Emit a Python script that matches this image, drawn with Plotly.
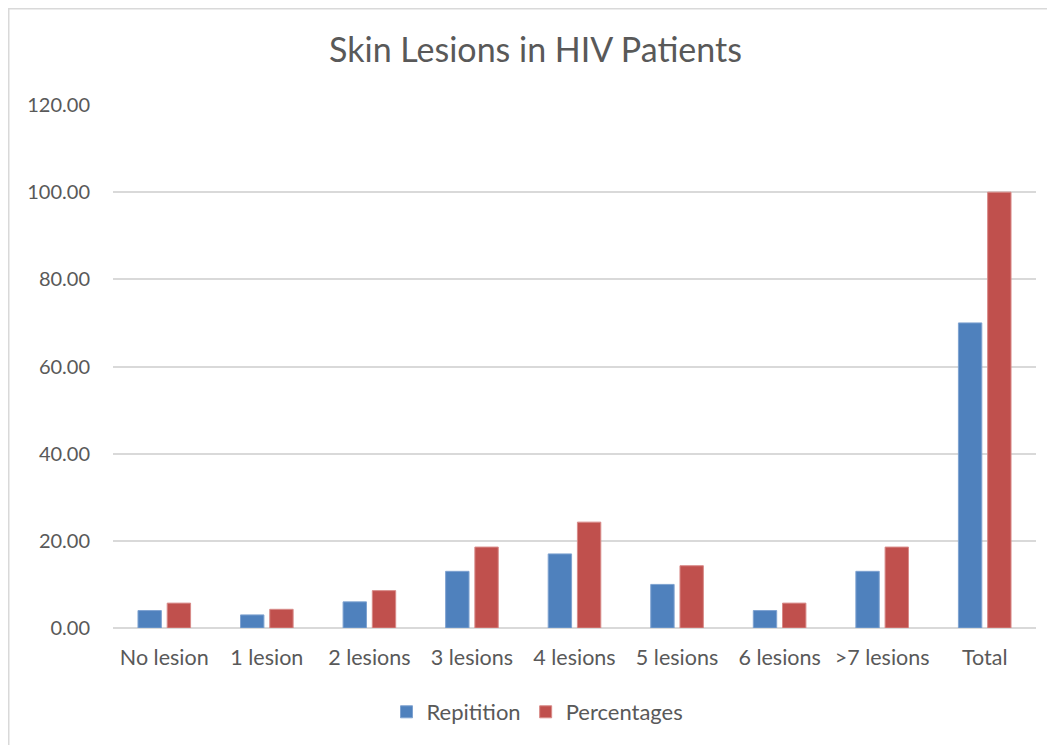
import plotly.graph_objects as go

categories = ["No lesion", "1 lesion", "2 lesions", "3 lesions", "4 lesions",
              "5 lesions", "6 lesions", ">7 lesions", "Total"]
repitition = [4, 3, 6, 13, 17, 10, 4, 13, 70]
percentages = [5.71, 4.29, 8.57, 18.57, 24.29, 14.29, 5.71, 18.57, 100.0]
tick_vals = [0, 20, 40, 60, 80, 100, 120]
tick_text = ["0.00", "20.00", "40.00", "60.00", "80.00", "100.00", "120.00"]

FONT = "Lato, Carlito, Calibri, sans-serif"
GREY = "#595959"

fig = go.Figure()
fig.add_trace(go.Bar(name="Repitition", x=categories, y=repitition,
                     marker=dict(color="#4f81bd", line=dict(color="#7ea2d0", width=1))))
fig.add_trace(go.Bar(name="Percentages", x=categories, y=percentages,
                     marker=dict(color="#c0504d", line=dict(color="#d88a88", width=1))))

OFF = 8  # page body margin offset
W, H = 1055, 745
L, R, T, B = 113 - OFF, 1036 - OFF, 105 - OFF, 628 - OFF
fig.update_layout(
    width=W, height=H,
    margin=dict(l=L, r=W - R, t=T, b=H - B, autoexpand=False),
    paper_bgcolor="white", plot_bgcolor="white",
    barmode="group", bargap=0.43, bargroupgap=0.2,
    font=dict(family=FONT, color=GREY, size=20),
    title=dict(text="Skin Lesions in HIV Patients", x=0.5, xanchor="center",
               y=1 - (50 - OFF) / H, yanchor="middle",
               font=dict(family=FONT, size=34, color=GREY)),
    xaxis=dict(showgrid=False, showline=False, ticks="", tickfont=dict(size=21.5, color=GREY),
               ticklabelstandoff=14),
    yaxis=dict(range=[0, 120], tickvals=tick_vals, ticktext=tick_text,
               showgrid=True, gridcolor="#d9d9d9", gridwidth=1.5,
               zeroline=True, zerolinecolor="#d9d9d9", zerolinewidth=1.5,
               showline=False, ticks="", tickfont=dict(size=20, color=GREY),
               ticklabelstandoff=22),
    legend=dict(orientation="h", x=0.5 - 37 / (R - L), xanchor="center",
                y=(B - (712 - OFF)) / (B - T),
                yanchor="middle", font=dict(size=22, color=GREY),
                itemwidth=30, traceorder="normal", itemclick=False),
    showlegend=True,
)

# outer chart border (top and left visible in reference)
w = R - L
h = B - T
fig.add_shape(type="rect", xref="paper", yref="paper",
              x0=(0.75 - L) / w, x1=(W + 20 - L) / w,
              y0=(B - (H + 20)) / h, y1=(B - 0.75) / h,
              line=dict(color="#d9d9d9", width=1.5), fillcolor="rgba(0,0,0,0)", layer="below")

fig.write_html("out.html")
